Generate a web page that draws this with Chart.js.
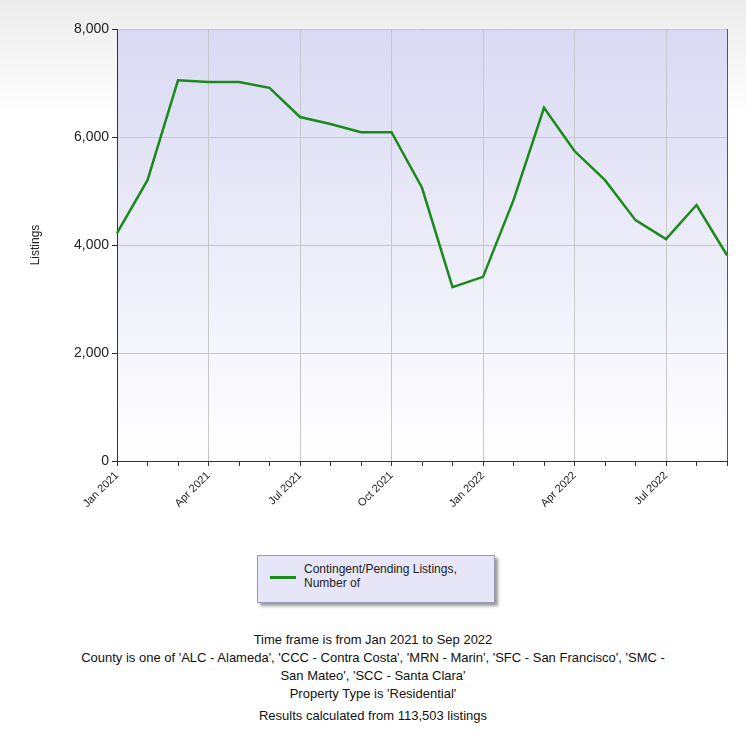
<!DOCTYPE html>
<html><head><meta charset="utf-8">
<script src="https://cdn.jsdelivr.net/npm/chart.js@4"></script>
<style>
body{margin:0;width:746px;height:741px;font-family:"Liberation Sans",Arial,sans-serif;
 background:linear-gradient(#ececec 0px,#ffffff 120px);}
#wrap{position:relative;width:746px;height:540px}
#legend{position:absolute;left:257px;top:555px;width:236px;height:46px;background:#e6e6f8;
 border:1px solid #9a9ab0;box-shadow:3px 3px 3px #999;font-size:12px;color:#222}
#legend .sw{position:absolute;left:12px;top:20px;width:26px;height:3px;background:#1a8a1a}
#legend .tx{position:absolute;left:46px;top:6px;line-height:14px}
#notes{position:absolute;top:631px;width:746px;text-align:center;font-size:13px;color:#111;line-height:18px}
</style></head><body>
<div id="wrap"><canvas id="c"></canvas></div>
<div id="legend"><div class="sw"></div><div class="tx">Contingent/Pending Listings,<br>Number of</div></div>
<div id="notes">Time frame is from Jan 2021 to Sep 2022<br>
County is one of 'ALC - Alameda', 'CCC - Contra Costa', 'MRN - Marin', 'SFC - San Francisco', 'SMC -<br>
San Mateo', 'SCC - Santa Clara'<br>Property Type is 'Residential'<br>
<div style="margin-top:4px">Results calculated from 113,503 listings</div></div>
<script>
const months = ['Jan 2021','Feb 2021','Mar 2021','Apr 2021','May 2021','Jun 2021','Jul 2021','Aug 2021','Sep 2021','Oct 2021','Nov 2021','Dec 2021',
  'Jan 2022','Feb 2022','Mar 2022','Apr 2022','May 2022','Jun 2022','Jul 2022','Aug 2022','Sep 2022'];
const listings = [4220,5200,7050,7020,7020,6910,6370,6240,6090,6090,5060,3220,3410,4830,6540,5740,5200,4460,4110,4740,3810];
const yTicks = [0,2000,4000,6000,8000];

// plot area background: lavender fading to white
const plotBg = {
  id: 'plotBg',
  beforeDraw(chart) {
    const {ctx, chartArea: a} = chart;
    const g = ctx.createLinearGradient(0, a.top, 0, a.bottom);
    g.addColorStop(0, '#d9d9f3'); g.addColorStop(1, '#ffffff');
    ctx.save(); ctx.fillStyle = g; ctx.fillRect(a.left, a.top, a.right - a.left, a.bottom - a.top);
    ctx.strokeStyle = '#555'; ctx.lineWidth = 1;
    ctx.beginPath(); ctx.moveTo(a.right + 0.5, a.top); ctx.lineTo(a.right + 0.5, a.bottom);
    ctx.moveTo(a.left, a.top + 0.5); ctx.lineTo(a.right, a.top + 0.5); ctx.stroke();
    ctx.restore();
  }
};

Chart.defaults.font.family = '"Liberation Sans", Arial, sans-serif';
new Chart(document.getElementById('c'), {
  type: 'line',
  data: { labels: months, datasets: [{ data: listings, borderColor: '#1a8a1a', borderWidth: 2.5, pointRadius: 0, tension: 0, fill: false }] },
  options: {
    responsive: true, maintainAspectRatio: false, animation: false,
    layout: { padding: { top: 29, right: 19, left: 24, bottom: 0 } },
    plugins: { legend: { display: false }, tooltip: { enabled: false } },
    scales: {
      x: {
        offset: false,
        afterFit: (ax) => { ax.height = 79; },
        grid: { color: (c) => c.index % 3 === 0 && c.index > 0 ? '#c8c8c8' : 'transparent', tickColor: '#333', tickLength: 5 },
        border: { color: '#333' },
        ticks: { autoSkip: false, maxRotation: 45, minRotation: 45, color: '#222', font: { size: 11 },
          callback: (v, i) => i % 3 === 0 ? months[i] : '' }
      },
      y: {
        min: 0, max: 8000,
        afterFit: (ax) => { ax.width = 93; },
        afterBuildTicks: (ax) => { ax.ticks = yTicks.map(v => ({ value: v })); },
        grid: { color: (c) => c.index > 0 ? '#c8c8c8' : 'transparent', tickColor: '#333', tickLength: 5 },
        border: { color: '#333' },
        ticks: { color: '#222', font: { size: 14 }, callback: (v) => v.toLocaleString('en-US') },
        title: { display: true, text: 'Listings', color: '#222', font: { size: 12 } }
      }
    }
  },
  plugins: [plotBg]
});
</script></body></html>
